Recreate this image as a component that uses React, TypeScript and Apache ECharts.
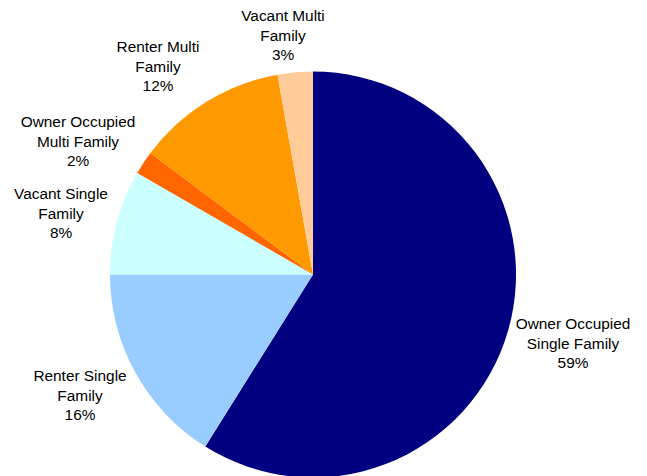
import React, { useEffect, useRef } from "react";
import * as echarts from "echarts";

const categories = [
  "Owner Occupied Single Family",
  "Renter Single Family",
  "Vacant Single Family",
  "Owner Occupied Multi Family",
  "Renter Multi Family",
  "Vacant Multi Family",
];
const labelTexts = [
  "Owner Occupied\nSingle Family",
  "Renter Single\nFamily",
  "Vacant Single\nFamily",
  "Owner Occupied\nMulti Family",
  "Renter Multi\nFamily",
  "Vacant Multi\nFamily",
];
const values = [58.9, 16.1, 8.33, 1.88, 11.99, 2.8];
const colors = ["#000080", "#99CCFF", "#CCFFFF", "#FF6600", "#FF9900", "#FFCC99"];
const labelPositions = [
  [573, 343],
  [80, 395],
  [61, 213],
  [78, 141],
  [158, 66],
  [283, 35],
];

export default function App() {
  const ref = useRef<HTMLDivElement>(null);
  useEffect(() => {
    if (!ref.current) return;
    const chart = echarts.init(ref.current, null, { renderer: "svg" });
    chart.setOption({
      animation: false,
      backgroundColor: "#ffffff",
      series: [
        {
          type: "pie",
          center: [313, 274.5],
          radius: 203,
          startAngle: 90,
          clockwise: true,
          avoidLabelOverlap: false,
          itemStyle: { borderWidth: 0 },
          label: {
            show: true,
            position: "outside",
            fontFamily: "'Liberation Sans', Arial, sans-serif",
            fontSize: 15.4,
            lineHeight: 19.5,
            color: "#000000",
            align: "center",
            formatter: (p: any) => `${labelTexts[p.dataIndex]}\n${Math.round(p.percent)}%`,
          },
          labelLine: { show: false },
          labelLayout: (p: any) => {
            const pos = labelPositions[p.dataIndex];
            return { x: pos[0], y: pos[1], align: "center", verticalAlign: "middle" };
          },
          emphasis: { disabled: true },
          data: categories.map((name, i) => ({
            name,
            value: values[i],
            itemStyle: { color: colors[i] },
          })),
        },
      ],
    });
    return () => chart.dispose();
  }, []);
  return (
    <div
      ref={ref}
      style={{ position: "fixed", left: 0, top: 0, width: 647, height: 476 }}
    />
  );
}
